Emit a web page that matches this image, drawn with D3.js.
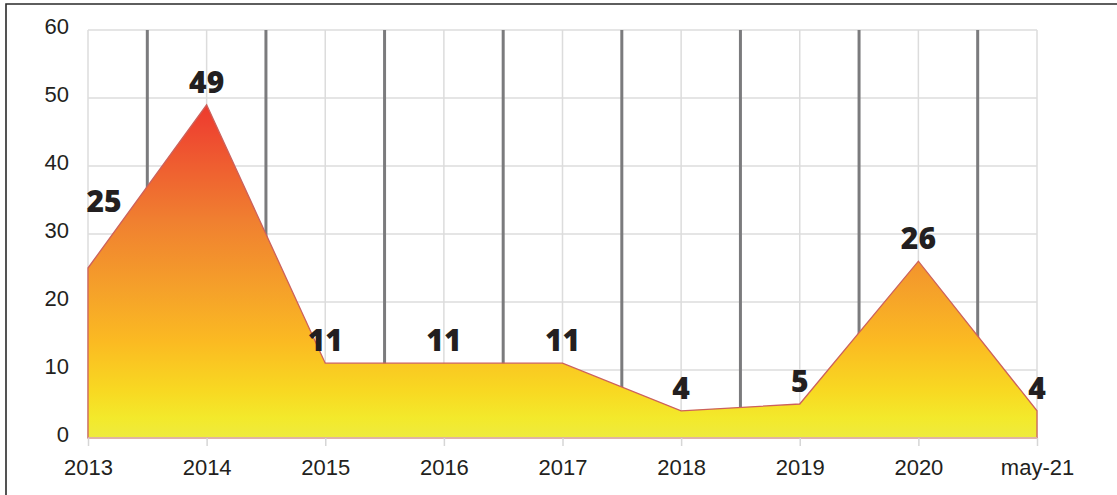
<!DOCTYPE html>
<html>
<head>
<meta charset="utf-8">
<script src="https://cdn.jsdelivr.net/npm/d3@7"></script>
<style>
  html, body { margin: 0; padding: 0; background: #fff; }
  svg { display: block; font-family: "Open Sans", "DejaVu Sans", sans-serif; }
</style>
</head>
<body>
<svg id="chart" width="1117" height="495"></svg>
<script>
// Yearly counts
const categories = ["2013", "2014", "2015", "2016", "2017", "2018", "2019", "2020", "may-21"];
const values = [25, 49, 11, 11, 11, 4, 5, 26, 4];
const yTicks = [0, 10, 20, 30, 40, 50, 60];

const svg = d3.select("#chart");
const W = 1117, H = 495;
const plotLeft = 88, plotRight = 1037, plotTop = 30, plotBottom = 438;

const x = d3.scalePoint().domain(categories).range([plotLeft, plotRight]);
const y = d3.scaleLinear().domain([0, 60]).range([plotBottom, plotTop]);
const step = x.step();

// outer frame (top and left edges visible)
svg.append("path")
  .attr("d", `M6,${H} L6,4 L${W},4`)
  .attr("fill", "none").attr("stroke", "#2a2a2a").attr("stroke-width", 1.6);

// light grid
const grid = svg.append("g");
grid.selectAll("line.h").data(yTicks).join("line").attr("class", "h")
  .attr("x1", plotLeft).attr("x2", plotRight)
  .attr("y1", d => y(d)).attr("y2", d => y(d))
  .attr("stroke", "#dcdcdc").attr("stroke-width", 1.5);
grid.selectAll("line.v").data(categories).join("line").attr("class", "v")
  .attr("x1", d => x(d)).attr("x2", d => x(d))
  .attr("y1", plotTop).attr("y2", plotBottom)
  .attr("stroke", "#dcdcdc").attr("stroke-width", 1.5);

// dark separators between categories
grid.selectAll("line.sep").data(categories.slice(1)).join("line").attr("class", "sep")
  .attr("x1", d => x(d) - step / 2).attr("x2", d => x(d) - step / 2)
  .attr("y1", plotTop).attr("y2", plotBottom)
  .attr("stroke", "#7b7b7d").attr("stroke-width", 3);

// gradient fill
const defs = svg.append("defs");
const grad = defs.append("linearGradient")
  .attr("id", "fillGrad").attr("gradientUnits", "userSpaceOnUse")
  .attr("x1", 0).attr("x2", 0)
  .attr("y1", y(d3.max(values))).attr("y2", y(0));
[[0, "#ee3a2c"], [0.06, "#ee4530"], [0.35, "#f08030"], [0.55, "#f5a02a"],
 [0.71, "#fbba22"], [0.86, "#f8d922"], [0.94, "#f3e92b"], [1, "#eeeb3e"]]
  .forEach(([o, c]) => grad.append("stop").attr("offset", o).attr("stop-color", c));

const area = d3.area()
  .x((d, i) => x(categories[i]))
  .y0(y(0))
  .y1(d => y(d));

svg.append("path")
  .datum(values)
  .attr("d", area)
  .attr("fill", "url(#fillGrad)")
  .attr("stroke", "#cc615c").attr("stroke-width", 1.3)
  .attr("stroke-linejoin", "miter");

// softer baseline
svg.append("line")
  .attr("x1", plotLeft).attr("x2", plotRight)
  .attr("y1", y(0)).attr("y2", y(0))
  .attr("stroke", "#e3c3bd").attr("stroke-width", 1.5);

// axes
const xAxis = svg.append("g")
  .attr("transform", `translate(0,${plotBottom})`)
  .call(d3.axisBottom(x).tickSize(8).tickPadding(13));
xAxis.select(".domain").remove();
xAxis.selectAll(".tick line").attr("stroke", "#d6d6d6").attr("stroke-width", 1.5);
xAxis.selectAll(".tick text")
  .attr("font-size", 22).attr("fill", "#231f20");

const yAxis = svg.append("g")
  .attr("transform", `translate(${plotLeft},0)`)
  .call(d3.axisLeft(y).tickValues(yTicks).tickSize(0).tickPadding(19));
yAxis.select(".domain").remove();
yAxis.selectAll(".tick text")
  .attr("font-size", 22).attr("fill", "#231f20").attr("dy", "0.18em");

// value labels
svg.append("g").selectAll("text").data(values).join("text")
  .attr("x", (d, i) => x(categories[i]) + (i === 0 ? 16 : 0))
  .attr("y", (d, i) => y(d) - (i === 0 ? 56 : 12))
  .attr("text-anchor", "middle")
  .attr("font-size", 30).attr("font-weight", 800)
  .attr("fill", "#231f20")
  .text(d => d);
</script>
</body>
</html>
